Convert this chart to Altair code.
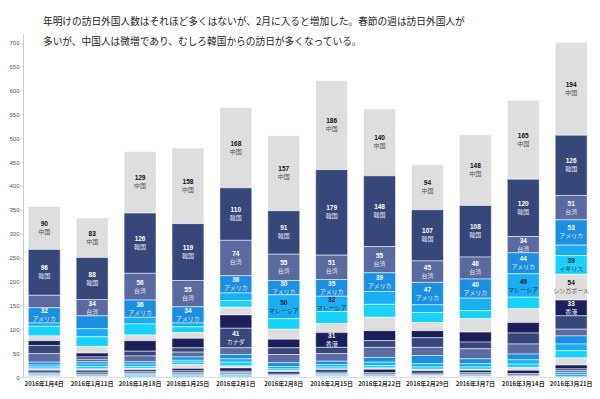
import altair as alt
import pandas as pd

weeks = ["2016年1月4日", "2016年1月11日", "2016年1月18日", "2016年1月25日",
         "2016年2月1日", "2016年2月8日", "2016年2月15日", "2016年2月22日",
         "2016年2月29日", "2016年3月7日", "2016年3月14日", "2016年3月21日"]

# series, from the top of each stack downward
series_names = ["中国", "韓国", "台湾", "アメリカ", "マレーシア", "イギリス", "シンガポール",
                "香港", "カナダ", "タイ", "オーストラリア", "フィリピン", "インドネシア",
                "ベトナム", "インド", "ドイツ", "フランス", "イタリア", "スペイン", "ロシア"]

china = [90, 83, 129, 158, 168, 157, 186, 140, 94, 148, 165, 194]
korea = [96, 88, 126, 119, 110, 91, 179, 148, 107, 108, 120, 126]
taiwan = [26, 34, 56, 55, 74, 55, 51, 55, 45, 46, 34, 51]
usa = [32, 27, 36, 34, 36, 30, 35, 39, 47, 40, 44, 53]
malaysia = [7, 17, 14, 8, 16, 50, 32, 27, 16, 26, 49, 22]
uk = [20, 20, 23, 12, 14, 22, 25, 27, 21, 17, 24, 39]
singapore = [10, 14, 12, 12, 16, 21, 19, 28, 17, 28, 29, 54]
hongkong = [10, 8, 22, 20, 28, 18, 31, 21, 15, 21, 22, 33]
canada = [17, 5, 10, 9, 41, 14, 13, 14, 20, 14, 23, 28]
thailand = [18, 5, 12, 10, 14, 17, 16, 21, 17, 21, 21, 14]
australia = [6, 5, 5, 7, 9, 8, 7, 10, 17, 10, 12, 17]
philippines = [4, 5, 5, 4, 7, 5, 5, 7, 7, 7, 9, 14]
indonesia = [4, 5, 4, 5, 8, 4, 4, 5, 5, 5, 7, 15]
vietnam = [3, 3, 3, 8, 4, 2, 2, 3, 3, 2, 6, 15]
india = [4, 4, 4, 5, 7, 5, 5, 7, 5, 5, 7, 8]
germany = [3, 4, 3, 4, 3, 2, 3, 3, 3, 3, 3, 4]
france = [2, 2, 2, 3, 3, 1, 2, 2, 2, 2, 2, 4]
italy = [2, 2, 2, 2, 2, 1, 2, 2, 1, 2, 1, 4]
spain = [2, 1, 2, 2, 2, 1, 2, 1, 1, 1, 1, 5]
russia = [1, 1, 2, 2, 2, 1, 1, 1, 1, 1, 0, 0]

series_values = [china, korea, taiwan, usa, malaysia, uk, singapore, hongkong, canada,
                 thailand, australia, philippines, indonesia, vietnam, india, germany,
                 france, italy, spain, russia]

y_ticks = [0, 50, 100, 150, 200, 250, 300, 350, 400, 450, 500, 550, 600, 650, 700]

title_lines = ["年明けの訪日外国人数はそれほど多くはないが、2月に入ると増加した。春節の週は訪日外国人が",
               "多いが、中国人は微増であり、むしろ韓国からの訪日が多くなっている。"]

GRAY, NAVY, SLATE, BLUE = "#dedede", "#37477a", "#5b6a9f", "#1b8fe2"
LBLUE, CYAN, DKNAVY = "#18aff5", "#17d3f9", "#1c1f5a"
slot_colors = [GRAY, NAVY, SLATE, BLUE, LBLUE, CYAN, GRAY, DKNAVY, NAVY, SLATE, BLUE,
               LBLUE, CYAN, GRAY, DKNAVY, NAVY, SLATE, BLUE, LBLUE, CYAN]
light_slots = {GRAY: "#111111", LBLUE: "#111111", CYAN: "#111111"}
num_colors = [light_slots.get(c, "#ffffff") for c in slot_colors]
name_map = {GRAY: "#555555", LBLUE: "#1a2040", CYAN: "#1a2040"}
name_colors = [name_map.get(c, "#e6e8f0") for c in slot_colors]

rows = []
for si, (name, vals) in enumerate(zip(series_names, series_values)):
    for wi, w in enumerate(weeks):
        rows.append({"week": w, "series": name, "idx": si, "value": vals[wi]})
df = pd.DataFrame(rows)

base = alt.Chart(df).transform_stack(
    stack="value", groupby=["week"],
    sort=[alt.SortField("idx", order="descending")], as_=["v0", "v1"]
).transform_calculate(mid="(datum.v0 + datum.v1) / 2")

x_enc = alt.X("week:N", sort=weeks, title=None,
              scale=alt.Scale(paddingInner=0.334, paddingOuter=0.0646, align=0.856),
              axis=alt.Axis(labelAngle=0, ticks=False, domainColor="#dddddd",
                            labelFontSize=6, labelFontWeight="bold", labelColor="#333333",
                            labelFont="Noto Sans CJK JP", labelPadding=3))
y_scale = alt.Scale(domain=[0, 720], nice=False)
y_axis = alt.Axis(values=y_ticks, grid=False, domainColor="#cccccc", tickColor="#cccccc",
                  tickSize=2, labelFontSize=6, labelColor="#555555", labelPadding=2,
                  labelFont="Liberation Sans")

bars = base.mark_bar(stroke="white", strokeWidth=0.5).encode(
    x=x_enc,
    y=alt.Y("v0:Q", scale=y_scale, axis=y_axis, title=None),
    y2="v1:Q",
    color=alt.Color("series:N", scale=alt.Scale(domain=series_names, range=slot_colors), legend=None),
)

labels = base.transform_filter("datum.value >= 30")
nums = labels.mark_text(dy=-4, fontSize=6.5, fontWeight="bold", font="Liberation Sans").encode(
    x=x_enc,
    y=alt.Y("mid:Q", scale=y_scale, axis=y_axis, title=None),
    text="value:Q",
    color=alt.Color("series:N", scale=alt.Scale(domain=series_names, range=num_colors), legend=None),
)
names = labels.mark_text(dy=4, fontSize=6, font="Noto Sans CJK JP").encode(
    x=x_enc,
    y=alt.Y("mid:Q", scale=y_scale, axis=y_axis, title=None),
    text="series:N",
    color=alt.Color("series:N", scale=alt.Scale(domain=series_names, range=name_colors), legend=None),
)

chart = alt.layer(bars, nums, names).resolve_scale(color="independent").properties(
    width=565, height=344,
    title=alt.Title(text=title_lines, anchor="start", frame="group", dx=20, offset=-14,
                    fontSize=9.7, font="Noto Sans CJK JP", fontWeight="normal",
                    color="#222222", lineHeight=20),
    autosize=alt.AutoSizeParams(type="none"),
    padding={"left": 15, "top": 25, "right": 4, "bottom": 14},
).configure_view(strokeWidth=0)

chart.save("out.html", embed_options={"renderer": "svg", "actions": False})
